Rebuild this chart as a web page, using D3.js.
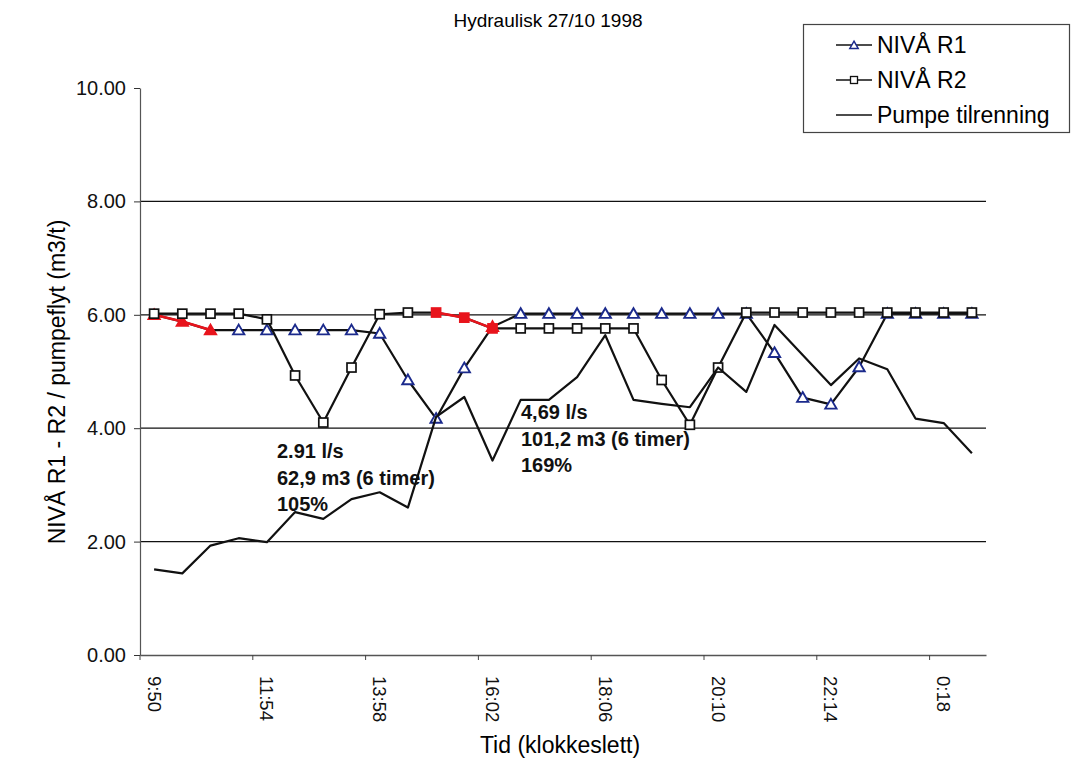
<!DOCTYPE html>
<html>
<head>
<meta charset="utf-8">
<script src="https://cdn.jsdelivr.net/npm/d3@7"></script>
<style>
  html, body { margin: 0; padding: 0; background: #fff; }
  svg { display: block; font-family: "Liberation Sans", Arial, sans-serif; }
</style>
</head>
<body>
<svg id="chart" width="1074" height="760"></svg>
<script>
// ---- data ----
const categories = ["9:50","10:21","10:52","11:23","11:54","12:25","12:56","13:27","13:58","14:29",
  "15:00","15:31","16:02","16:33","17:04","17:35","18:06","18:37","19:08","19:39",
  "20:10","20:41","21:12","21:43","22:14","22:45","23:16","23:47","0:18","0:49"];
const tickLabels = ["9:50","11:54","13:58","16:02","18:06","20:10","22:14","0:18"];
const yTicks = [0, 2, 4, 6, 8, 10];
const gridValues = [2, 4, 6, 8];

const nivaR1 = [6.00, 5.88, 5.73, 5.73, 5.73, 5.73, 5.73, 5.73, 5.67, 4.85,
  4.17, 5.06, 5.79, 6.02, 6.02, 6.02, 6.02, 6.02, 6.02, 6.02,
  6.02, 6.02, 5.33, 4.54, 4.42, 5.08, 6.02, 6.02, 6.02, 6.02];
const nivaR2 = [6.02, 6.02, 6.02, 6.02, 5.92, 4.93, 4.10, 5.07, 6.01, 6.04,
  6.04, 5.95, 5.76, 5.76, 5.76, 5.76, 5.76, 5.76, 4.85, 4.06,
  5.07, 6.04, 6.04, 6.04, 6.04, 6.04, 6.04, 6.04, 6.04, 6.04];
const pumpe = [1.51, 1.44, 1.93, 2.06, 1.99, 2.52, 2.40, 2.75, 2.87, 2.60,
  4.20, 4.55, 3.43, 4.50, 4.50, 4.90, 5.64, 4.50, 4.43, 4.37,
  5.07, 4.64, 5.82, 5.29, 4.76, 5.23, 5.04, 4.17, 4.09, 3.56];
// points highlighted in red
const r1Red = [0, 1, 2, 12];
const r2Red = [10, 11, 12];

const title = "Hydraulisk 27/10 1998";
const yTitle = "NIVÅ R1 - R2 / pumpeflyt (m3/t)";
const xTitle = "Tid (klokkeslett)";
const legendNames = ["NIVÅ R1", "NIVÅ R2", "Pumpe tilrenning"];
const note1 = ["2.91 l/s", "62,9 m3 (6 timer)", "105%"];
const note2 = ["4,69 l/s", "101,2 m3 (6 timer)", "169%"];

// ---- drawing ----
const svg = d3.select("#chart");
const RED = "#e8141c", NAVY = "#1b2a8c";

const x = d3.scaleBand().domain(categories).range([140, 986]).paddingInner(0).paddingOuter(0);
const xc = c => x(c) + x.bandwidth() / 2;
const y = d3.scaleLinear().domain([0, 10]).range([655, 88]);

// title
svg.append("text").attr("x", 548).attr("y", 27).attr("text-anchor", "middle")
  .attr("font-size", 19).text(title);

// gridlines
svg.append("g").selectAll("line").data(gridValues).join("line")
  .attr("x1", 140).attr("x2", 986)
  .attr("y1", d => y(d)).attr("y2", d => y(d))
  .attr("stroke", "#111").attr("stroke-width", 1.3);

// y axis
const yAxis = svg.append("g").attr("transform", "translate(140,0)")
  .call(d3.axisLeft(y).tickValues(yTicks).tickFormat(d3.format(".2f")).tickSize(6).tickPadding(8).tickSizeOuter(0));
yAxis.select(".domain").attr("stroke", "#555").attr("stroke-width", 1.2);
yAxis.selectAll(".tick line").attr("stroke", "#333");
yAxis.selectAll("text").attr("font-size", 20).attr("fill", "#111").attr("font-family", "Liberation Sans, Arial, sans-serif");

// x axis
const xAxis = svg.append("g").attr("transform", "translate(0,655)")
  .call(d3.axisBottom(x).tickValues(tickLabels).tickSize(0).tickSizeOuter(0).tickPadding(0));
xAxis.select(".domain").attr("stroke", "#555").attr("stroke-width", 1.3);
xAxis.selectAll(".tick text")
  .attr("font-size", 18.5).attr("fill", "#111").attr("font-family", "Liberation Sans, Arial, sans-serif")
  .attr("transform", "rotate(90)")
  .attr("x", 21).attr("y", 0).attr("dy", "0.35em")
  .attr("text-anchor", "start");
// tick marks at category boundaries
svg.append("g").selectAll("line").data(tickLabels).join("line")
  .attr("x1", d => x(d)).attr("x2", d => x(d))
  .attr("y1", 655).attr("y2", 660).attr("stroke", "#444");

// axis titles
svg.append("text").attr("transform", "translate(57,382) rotate(-90)")
  .attr("text-anchor", "middle").attr("dominant-baseline", "central")
  .attr("font-size", 23).text(yTitle);
svg.append("text").attr("x", 560).attr("y", 753).attr("text-anchor", "middle")
  .attr("font-size", 23).text(xTitle);

// line helpers
const lineGen = d3.line().x(d => xc(d.c)).y(d => y(d.v));
function series(vals) { return vals.map((v, i) => ({ c: categories[i], v, i })); }

function drawSeries(vals, redIdx) {
  const pts = series(vals);
  const g = svg.append("g");
  g.append("path").datum(pts).attr("d", lineGen)
    .attr("fill", "none").attr("stroke", "#111").attr("stroke-width", 2.2).attr("stroke-linejoin", "round");
  // red segments between consecutive highlighted points
  const segs = [];
  for (let i = 1; i < pts.length; i++) {
    if (redIdx.includes(i) && redIdx.includes(i - 1)) segs.push([pts[i - 1], pts[i]]);
  }
  g.selectAll(".seg").data(segs).join("path").attr("class", "seg")
    .attr("d", d => lineGen(d)).attr("fill", "none").attr("stroke", RED).attr("stroke-width", 2.6);
  return { g, pts };
}

const tri = d3.symbol().type(d3.symbolTriangle).size(55);
const sq = 9;

// NIVÅ R1
const s1 = drawSeries(nivaR1, r1Red);
s1.g.selectAll(".m").data(s1.pts).join("path").attr("class", "m")
  .attr("transform", d => `translate(${xc(d.c)},${y(d.v) + 1})`)
  .attr("d", tri)
  .attr("fill", d => r1Red.includes(d.i) ? RED : "#fff")
  .attr("stroke", d => r1Red.includes(d.i) ? RED : NAVY)
  .attr("stroke-width", 1.9);

// NIVÅ R2
const s2 = drawSeries(nivaR2, r2Red);
s2.g.selectAll(".m").data(s2.pts).join("rect").attr("class", "m")
  .attr("x", d => xc(d.c) - sq / 2).attr("y", d => y(d.v) - sq / 2)
  .attr("width", sq).attr("height", sq)
  .attr("fill", d => r2Red.includes(d.i) ? RED : "#fff")
  .attr("stroke", d => r2Red.includes(d.i) ? RED : "#111")
  .attr("stroke-width", 1.7);

// Pumpe tilrenning
svg.append("path").datum(series(pumpe)).attr("d", lineGen)
  .attr("fill", "none").attr("stroke", "#111").attr("stroke-width", 2.2).attr("stroke-linejoin", "round");

// annotations
function note(lines, x0, y0) {
  svg.append("g").selectAll("text").data(lines).join("text")
    .attr("x", x0).attr("y", (d, i) => y0 + i * 26.5)
    .attr("font-size", 20).attr("font-weight", "bold").attr("fill", "#111").text(d => d);
}
note(note1, 277, 458);
note(note2, 521, 419);

// legend
const lg = svg.append("g");
lg.append("rect").attr("x", 803.5).attr("y", 24.5).attr("width", 266).attr("height", 108)
  .attr("fill", "#fff").attr("stroke", "#444").attr("stroke-width", 1.2);
const ly = [45, 80, 115];
legendNames.forEach((name, k) => {
  lg.append("line").attr("x1", 836).attr("x2", 872).attr("y1", ly[k]).attr("y2", ly[k])
    .attr("stroke", "#111").attr("stroke-width", 1.6);
  lg.append("text").attr("x", 877).attr("y", ly[k] + 8).attr("font-size", 23).text(name);
});
lg.append("path").attr("transform", `translate(854,${ly[0] + 1})`).attr("d", d3.symbol().type(d3.symbolTriangle).size(30))
  .attr("fill", "#fff").attr("stroke", NAVY).attr("stroke-width", 1.5);
lg.append("rect").attr("x", 850.5).attr("y", ly[1] - 3.5).attr("width", 7).attr("height", 7)
  .attr("fill", "#fff").attr("stroke", "#111").attr("stroke-width", 1.3);
</script>
</body>
</html>
